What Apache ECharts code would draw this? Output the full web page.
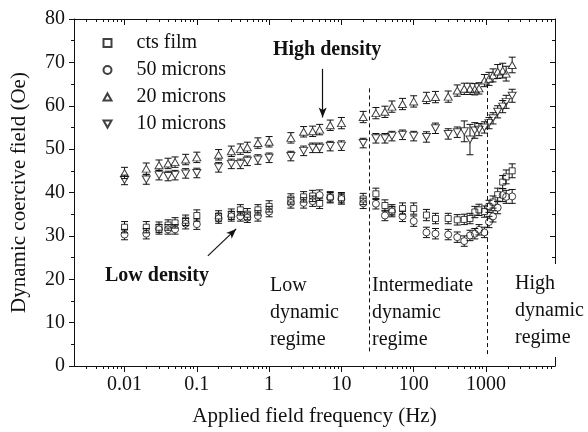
<!DOCTYPE html>
<html>
<head>
<meta charset="utf-8">
<script src="https://cdn.jsdelivr.net/npm/echarts@6/dist/echarts.min.js"></script>
<style>
  html, body { margin: 0; padding: 0; background: #fff; }
  #chart { width: 588px; height: 432px; }
</style>
</head>
<body>
<div id="chart"></div>
<script>
// applied field frequency (Hz), same points for every sample
const freqs = [0.01, 0.02, 0.03, 0.04, 0.05, 0.07, 0.1, 0.2, 0.3, 0.4, 0.5, 0.7, 1, 2, 3, 4, 5, 7, 10,
  20, 30, 40, 50, 70, 100, 150, 200, 300, 400, 500, 600, 700, 800, 950, 1100, 1250, 1450, 1700, 1900, 2300];

// dynamic coercive field (Oe)
const ctsFilm = [32.0, 32.0, 32.0, 32.5, 33.0, 33.6, 34.7, 34.6, 35.0, 36.0, 35.0, 36.0, 36.8, 38.5, 39.0, 39.2, 37.5, 39.0, 38.8,
  38.5, 39.7, 37.0, 36.0, 36.3, 36.3, 34.8, 34.0, 34.0, 33.7, 33.8, 34.0, 35.5, 36.0, 35.6, 36.8, 37.8, 39.5, 42.4, 43.6, 45.0];
const ctsFilmErr = [1.3, 1.3, 1.2, 1.2, 1.2, 1.2, 1.3, 1.2, 1.2, 1.2, 1.3, 1.2, 1.3, 1.2, 1.2, 1.3, 1.2, 1.2, 1.2,
  1.3, 1.3, 1.3, 1.2, 1.3, 1.3, 1.3, 1.2, 1.2, 1.2, 1.2, 1.2, 1.3, 1.3, 1.3, 1.4, 1.4, 1.5, 1.5, 1.6, 1.6];

const microns50 = [30.3, 30.5, 31.5, 31.5, 31.5, 32.8, 32.7, 34.0, 34.5, 34.5, 34.2, 34.6, 35.6, 37.6, 37.6, 38.0, 39.4, 38.8, 38.5,
  37.5, 37.4, 34.7, 35.6, 34.5, 33.4, 30.8, 30.5, 30.3, 29.7, 28.8, 30.1, 30.5, 31.4, 30.8, 33.2, 34.5, 36.5, 39.4, 39.0, 39.1];
const microns50Err = [1.2, 1.2, 1.1, 1.1, 1.1, 1.2, 1.2, 1.1, 1.1, 1.1, 1.1, 1.2, 1.2, 1.2, 1.2, 1.2, 1.2, 1.2, 1.2,
  1.2, 1.2, 1.2, 1.2, 1.2, 1.2, 1.2, 1.2, 1.2, 1.2, 1.2, 1.2, 1.2, 1.2, 1.2, 1.3, 1.3, 1.4, 1.5, 1.5, 1.6];

const microns20 = [44.5, 45.5, 46.3, 46.7, 47.0, 47.6, 48.1, 48.7, 49.5, 50.0, 50.4, 51.4, 51.7, 52.6, 54.0, 54.1, 54.5, 55.5, 56.0,
  57.4, 58.3, 58.6, 59.8, 60.4, 61.0, 61.8, 62.0, 62.1, 63.5, 63.9, 63.9, 63.8, 64.0, 65.8, 66.2, 67.0, 67.9, 68.1, 67.4, 69.4];
const microns20Err = [1.3, 1.3, 1.2, 1.2, 1.2, 1.2, 1.2, 1.2, 1.2, 1.2, 1.2, 1.2, 1.2, 1.2, 1.2, 1.2, 1.2, 1.2, 1.3,
  1.3, 1.3, 1.3, 1.3, 1.3, 1.3, 1.3, 1.3, 1.3, 1.3, 1.3, 1.3, 1.3, 1.3, 1.4, 1.5, 1.5, 1.6, 1.7, 1.7, 1.8];

const microns10 = [42.9, 43.0, 44.0, 43.8, 44.0, 44.4, 44.5, 45.8, 46.6, 46.6, 47.3, 47.6, 48.0, 48.4, 49.6, 50.3, 50.3, 50.7, 50.8,
  51.4, 52.5, 52.5, 53.0, 53.3, 53.0, 52.8, 54.8, 53.5, 53.9, 54.1, 52.2, 54.3, 54.5, 55.0, 56.0, 57.1, 58.6, 59.8, 60.9, 62.3];
const microns10Err = [1.1, 1.1, 1.1, 1.1, 1.1, 1.1, 1.1, 1.1, 1.1, 1.1, 1.1, 1.1, 1.1, 1.1, 1.1, 1.1, 1.1, 1.1, 1.1,
  1.1, 1.1, 1.1, 1.1, 1.1, 1.1, 1.2, 1.2, 1.2, 1.2, 2.4, 3.5, 1.8, 1.4, 1.3, 1.3, 1.3, 1.4, 1.4, 1.5, 1.5];

// bottom axis decades and their labels
const decadeFreqs = [0.01, 0.1, 1, 10, 100, 1000];
const decadeLabels = ['0.01', '0.1', '1', '10', '100', '1000'];

const ink = '#111';
const font = '"Liberation Serif", "Times New Roman", serif';

const lg = Math.log10;
const xMin = lg(0.002), xMax = lg(9000);

// minor log ticks 2..9 inside each decade
const minorTicks = [];
for (let d = -3; d <= 3; d++) {
  for (let k = 2; k <= 9; k++) {
    const v = lg(k * Math.pow(10, d));
    if (v > xMin && v < xMax) minorTicks.push(v);
  }
}
const majorTicks = decadeFreqs.map(lg);

function pts(vals) {
  return freqs.map((f, i) => [lg(f), vals[i]]);
}

function markerSeries(name, vals, symbol, size, rotate, extra) {
  return Object.assign({
    type: 'scatter',
    name,
    data: pts(vals),
    symbol,
    symbolSize: size,
    symbolRotate: rotate,
    itemStyle: { color: 'none', borderColor: ink, borderWidth: 1 },
    z: 3,
    silent: true,
  }, extra || {});
}

// error bars with caps, the stem is cut where the marker sits
function errorBars(vals, errs, half) {
  return {
    type: 'custom',
    silent: true,
    z: 2,
    renderItem(params, api) {
      const x = api.value(0);
      const v = api.value(1);
      const e = api.value(2);
      const c = api.coord([x, v]);
      const hi = api.coord([x, v + e]);
      const lo = api.coord([x, v - e]);
      const cap = 3.5;
      const style = { stroke: ink, lineWidth: 1, fill: null };
      const kids = [
        { type: 'line', shape: { x1: c[0] - cap, y1: hi[1], x2: c[0] + cap, y2: hi[1] }, style },
        { type: 'line', shape: { x1: c[0] - cap, y1: lo[1], x2: c[0] + cap, y2: lo[1] }, style },
      ];
      if (c[1] - half > hi[1]) kids.push({ type: 'line', shape: { x1: c[0], y1: hi[1], x2: c[0], y2: c[1] - half }, style });
      if (c[1] + half < lo[1]) kids.push({ type: 'line', shape: { x1: c[0], y1: c[1] + half, x2: c[0], y2: lo[1] }, style });
      return { type: 'group', children: kids };
    },
    data: freqs.map((f, i) => [lg(f), vals[i], errs[i]]),
  };
}

function xAxisPart(position, ticks, len, withLine, withLabel) {
  return {
    type: 'value',
    position,
    min: xMin,
    max: xMax,
    axisLine: { show: withLine, onZero: false, lineStyle: { color: ink, width: 1 } },
    axisTick: { show: true, customValues: ticks, length: len, inside: position === 'top', lineStyle: { color: ink, width: 1 } },
    axisLabel: {
      show: withLabel,
      customValues: majorTicks,
      margin: 9,
      color: ink,
      fontFamily: font,
      fontSize: 20,
      formatter: (v) => decadeLabels[majorTicks.findIndex((m) => Math.abs(m - v) < 1e-6)] || '',
    },
    splitLine: { show: false },
  };
}

const arrowLine = { type: 'solid', color: ink, width: 1.2 };
const dashLine = { type: [4, 3], color: ink, width: 1 };

const option = {
  animation: false,
  backgroundColor: '#fff',
  grid: { left: 74, right: 33, top: 19, bottom: 61 },
  xAxis: [
    Object.assign(xAxisPart('bottom', majorTicks, 6, true, true), {
      name: 'Applied field frequency (Hz)',
      nameLocation: 'middle',
      nameGap: 40,
      nameTextStyle: { color: ink, fontFamily: font, fontSize: 21 },
    }),
    xAxisPart('bottom', minorTicks, 3, false, false),
    xAxisPart('top', majorTicks, 6, true, false),
    xAxisPart('top', minorTicks, 3, false, false),
  ],
  yAxis: [
    {
      type: 'value',
      position: 'left',
      min: 0,
      max: 80,
      interval: 10,
      name: 'Dynamic coercive field (Oe)',
      nameLocation: 'middle',
      nameGap: 44,
      nameTextStyle: { color: ink, fontFamily: font, fontSize: 21 },
      axisLine: { show: true, onZero: false, lineStyle: { color: ink, width: 1 } },
      axisTick: { length: 5, lineStyle: { color: ink } },
      minorTick: { show: true, splitNumber: 2, length: 3, lineStyle: { color: ink } },
      axisLabel: { color: ink, fontFamily: font, fontSize: 20, margin: 9 },
      splitLine: { show: false },
    },
    {
      type: 'value',
      position: 'right',
      min: 0,
      max: 80,
      interval: 10,
      axisLine: { show: true, onZero: false, lineStyle: { color: ink, width: 1 } },
      axisTick: { inside: true, length: 5, lineStyle: { color: ink } },
      minorTick: { show: true, splitNumber: 2, length: 3, lineStyle: { color: ink } },
      axisLabel: { show: false },
      splitLine: { show: false },
    },
  ],
  legend: {
    orient: 'vertical',
    left: 96,
    top: 28,
    itemWidth: 8,
    itemHeight: 8,
    itemGap: 7,
    selectedMode: false,
    textStyle: { color: ink, fontFamily: font, fontSize: 20, padding: [0, 0, 0, 20] },
    data: [
      { name: 'cts film', icon: 'rect' },
      { name: '50 microns', icon: 'circle' },
      { name: '20 microns', icon: 'path://M5,0L10,9L0,9Z' },
      { name: '10 microns', icon: 'path://M0,0L10,0L5,9Z' },
    ],
  },
  series: [
    errorBars(ctsFilm, ctsFilmErr, 3),
    errorBars(microns50, microns50Err, 3.5),
    errorBars(microns20, microns20Err, 3.5),
    errorBars(microns10, microns10Err, 3.5),
    markerSeries('cts film', ctsFilm, 'rect', 6, 0, {
      markLine: {
        silent: true,
        animation: false,
        symbol: ['none', 'none'],
        label: { show: false },
        emphasis: { disabled: true },
        data: [
          [{ coord: [lg(24), 64], lineStyle: dashLine }, { coord: [lg(24), 3] }],
          [{ coord: [lg(1050), 65], lineStyle: dashLine }, { coord: [lg(1050), 2.5] }],
          [{ coord: [lg(5.5), 68.5], lineStyle: arrowLine }, { coord: [lg(5.5), 57.3], symbol: 'arrow', symbolSize: [6, 10] }],
          [{ coord: [lg(0.142), 25.4], lineStyle: arrowLine }, { coord: [lg(0.35), 31.6], symbol: 'arrow', symbolSize: [6, 10] }],
        ],
      },
    }),
    markerSeries('50 microns', microns50, 'circle', 7, 0),
    markerSeries('20 microns', microns20, 'triangle', [8, 7], 0),
    markerSeries('10 microns', microns10, 'triangle', [8, 7], 180),
  ],
  graphic: [
    { type: 'text', z: 100, left: 105, top: 266, style: { text: 'Low density', font: 'bold 20px ' + font, fill: ink } },
    { type: 'text', z: 100, left: 273, top: 40, style: { text: 'High density', font: 'bold 20px ' + font, fill: ink } },
    { type: 'text', z: 100, left: 270, top: 272, style: { text: 'Low\ndynamic\nregime', font: '20px ' + font, lineHeight: 27, fill: ink } },
    { type: 'text', z: 100, left: 372, top: 272, style: { text: 'Intermediate\ndynamic\nregime', font: '20px ' + font, lineHeight: 27, fill: ink } },
    { type: 'text', z: 100, left: 512, top: 264, style: { text: 'High\ndynamic\nregime', font: '20px ' + font, lineHeight: 27, fill: ink, backgroundColor: '#fff', padding: [6, 3, 6, 3] } },
  ],
};

const chart = echarts.init(document.getElementById('chart'), null, { renderer: 'canvas' });
chart.setOption(option);
</script>
</body>
</html>
